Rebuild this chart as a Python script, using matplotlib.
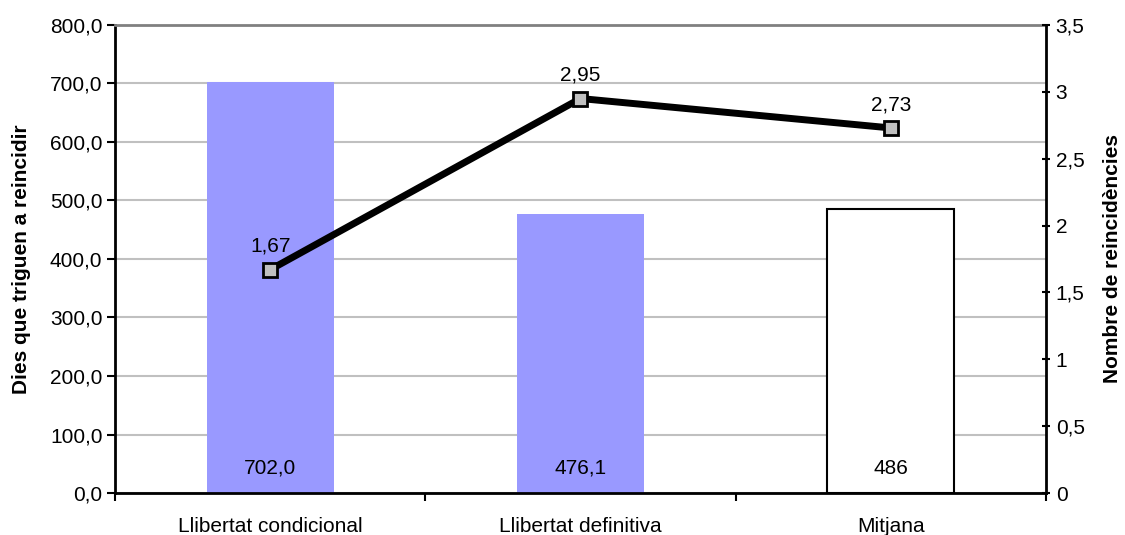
import matplotlib
matplotlib.use("Agg")
import matplotlib.pyplot as plt
from matplotlib.ticker import FuncFormatter

plt.rcParams['font.family'] = ['Liberation Sans', 'DejaVu Sans']

categories = ["Llibertat condicional", "Llibertat definitiva", "Mitjana"]
dies = [702.0, 476.1, 486]
dies_labels = ["702,0", "476,1", "486"]
reincidencies = [1.67, 2.95, 2.73]
reinc_labels = ["1,67", "2,95", "2,73"]
bar_colors = ["#9999ff", "#9999ff", "#ffffff"]
bar_edges = ["none", "none", "black"]

FS = 15

fig = plt.figure(figsize=(11.25, 5.35), dpi=100)
ax = fig.add_axes([0.1022, 0.0785, 0.8276, 0.8748])
x = list(range(len(categories)))
for i in x:
    ax.bar(i, dies[i], width=0.41, color=bar_colors[i], edgecolor=bar_edges[i],
           linewidth=1.5 if bar_edges[i] != "none" else 0, zorder=2)
    ax.text(i, 42, dies_labels[i], ha='center', va='center', fontsize=FS, zorder=5)

ax.set_xlim(-0.5, 2.5)
ax.set_ylim(0, 800)
ax.set_yticks(range(0, 801, 100))
ax.yaxis.set_major_formatter(FuncFormatter(lambda v, p: f"{v:.1f}".replace('.', ',')))
ax.yaxis.grid(True, color='#c0c0c0', linewidth=1.5, zorder=0)
ax.set_axisbelow(True)
ax.set_xticks([-0.5, 0.5, 1.5, 2.5])
ax.set_xticklabels([])
ax.set_xticks(x, minor=True)
ax.set_xticklabels(categories, minor=True)
ax.tick_params(axis='x', which='minor', length=0, pad=17, labelsize=FS)
ax.tick_params(axis='x', which='major', length=6, width=1.5, direction='out')
ax.tick_params(axis='y', length=6, width=1.5, direction='out', labelsize=FS, pad=3)
for s in ['left', 'bottom']:
    ax.spines[s].set_linewidth(2)
ax.spines['top'].set_color('#808080')
ax.spines['top'].set_linewidth(2)
ax.spines['right'].set_visible(False)
ax.set_ylabel("Dies que triguen a reincidir", fontsize=FS, fontweight='bold', labelpad=14)

ax2 = ax.twinx()
ax2.set_ylim(0, 3.5)
ax2.set_yticks([0, 0.5, 1, 1.5, 2, 2.5, 3, 3.5])
ax2.yaxis.set_major_formatter(FuncFormatter(lambda v, p: (f"{v:g}").replace('.', ',')))
ax2.plot(x, reincidencies, color='black', linewidth=5, marker='s', markersize=10,
         markerfacecolor='#c0c0c0', markeredgecolor='black', markeredgewidth=2, zorder=4)
for i in x:
    ax2.annotate(reinc_labels[i], (i, reincidencies[i]), xytext=(0, 10), textcoords='offset points',
                 ha='center', va='bottom', fontsize=FS)
for s in ['left', 'bottom', 'top']:
    ax2.spines[s].set_visible(False)
ax2.spines['right'].set_linewidth(2)
ax2.tick_params(axis='y', length=6, width=1.5, direction='inout', labelsize=FS, pad=4)
ax2.set_ylabel("Nombre de reincidències", fontsize=FS, fontweight='bold', labelpad=13)

fig.savefig("out.png", dpi=100)
